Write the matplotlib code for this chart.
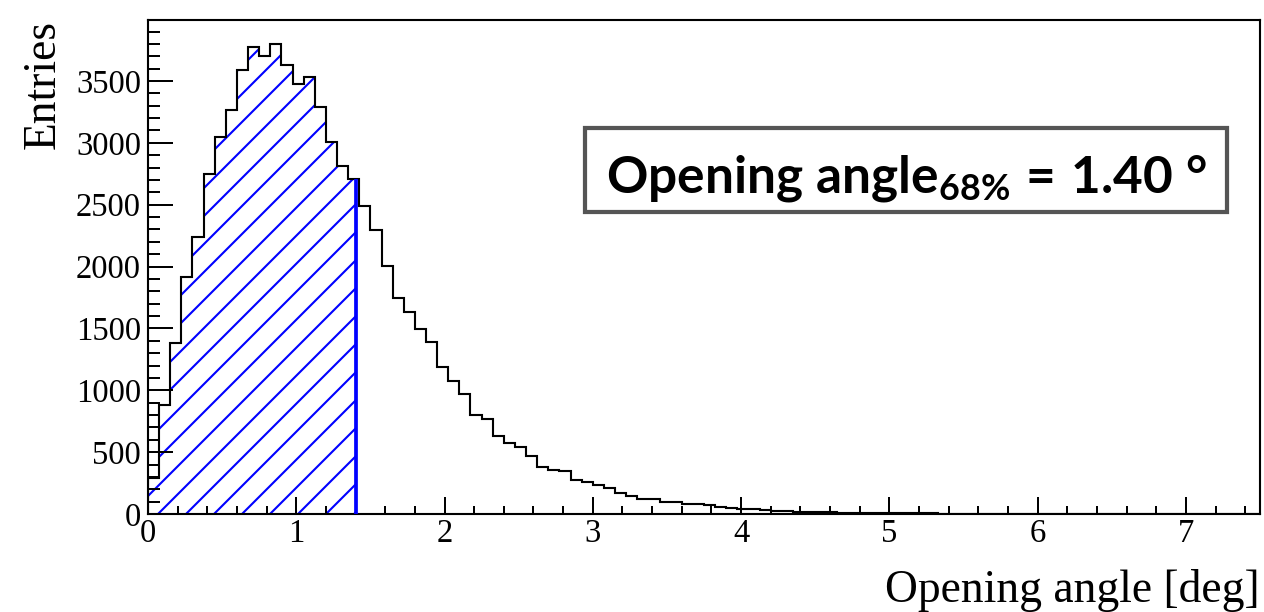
import numpy as np
import matplotlib.pyplot as plt
from matplotlib.patches import Rectangle
from matplotlib.ticker import MultipleLocator

# histogram: 100 bins from 0 to 7.5 deg
x_min, x_max, n_bins = 0.0, 7.5, 100
counts = np.array([
    292, 883, 1386, 1915, 2237, 2747, 3049, 3268, 3590, 3774,
    3706, 3803, 3633, 3476, 3536, 3288, 3004, 2815, 2707, 2493,
    2293, 2004, 1742, 1631, 1497, 1388, 1189, 1078, 968, 797,
    770, 632, 573, 545, 472, 378, 357, 351, 276, 257,
    235, 208, 173, 148, 124, 119, 100, 98, 80, 78,
    75, 54, 47, 43, 40, 30, 27, 25, 18, 15,
    14, 13, 12, 10, 9, 8, 7, 6, 6, 5,
    5, 4, 4, 3, 3, 3, 2, 2, 2, 2,
    1, 1, 2, 1, 1, 1, 1, 0, 1, 1,
    0, 1, 0, 0, 1, 0, 0, 0, 0, 0,
])
angle_68 = 1.40
x_ticks = [0, 1, 2, 3, 4, 5, 6, 7]
y_ticks = [0, 500, 1000, 1500, 2000, 2500, 3000, 3500]

dpi = 168  # chosen so that the '//' hatch spacing matches the reference
plt.rcParams['font.family'] = 'Liberation Serif'
plt.rcParams['hatch.linewidth'] = 0.9
plt.rcParams['mathtext.fontset'] = 'custom'
plt.rcParams['mathtext.rm'] = 'Lato'
plt.rcParams['mathtext.bf'] = 'Lato:bold'
plt.rcParams['mathtext.it'] = 'Lato:italic'

edges = np.linspace(x_min, x_max, n_bins + 1)

fig = plt.figure(figsize=(1264 / dpi, 612 / dpi), dpi=dpi)
ax = fig.add_axes([148 / 1264, 98 / 612, 1112 / 1264, 494 / 612])

# hatched 68% region
n_cut = np.searchsorted(edges, angle_68)
cut_edges = np.append(edges[:n_cut], angle_68)
cut_counts = counts[:n_cut]
ax.stairs(cut_counts, cut_edges, fill=True, facecolor='none',
          edgecolor='#0000ff', hatch='//', linewidth=0)
ax.vlines(angle_68, 0, cut_counts[-1], color='#0000ff', lw=1.6, zorder=4)

# histogram outline
ax.stairs(counts, edges, color='black', lw=0.9, zorder=3)

ax.set_xlim(x_min, x_max)
ax.set_ylim(0, counts.max() * 1.05)
ax.set_xticks(x_ticks)
ax.set_yticks(y_ticks)
ax.xaxis.set_minor_locator(MultipleLocator(0.2))
ax.yaxis.set_minor_locator(MultipleLocator(100))
ax.tick_params(which='both', direction='in', top=False, right=False,
               width=0.85, labelsize=14)
ax.tick_params(axis='y', which='major', length=10.7, pad=3)
ax.tick_params(axis='y', which='minor', length=5.1)
ax.tick_params(axis='x', which='major', length=7.3, pad=2)
ax.tick_params(axis='x', which='minor', length=3.4)
for s in ax.spines.values():
    s.set_linewidth(0.9)

fig.text(43 / 1264, 1 - 20 / 612, 'Entries', rotation=90, ha='center',
         va='top', fontsize=19.5)
fig.text(1260 / 1264, 10 / 612, 'Opening angle [deg]', ha='right',
         va='baseline', fontsize=19.5)

# result box
ax.add_patch(Rectangle((0.393, 0.611), 0.577, 0.170, transform=ax.transAxes,
                       facecolor='white', edgecolor='#555555', lw=1.8, zorder=5))
ax.text(0.682, 0.650,
        r'$\mathbf{Opening\ angle}_{\mathbf{68\%}}\,\mathbf{=\,1.40\,\,°}$',
        transform=ax.transAxes, ha='center', va='baseline', fontsize=22,
        zorder=6)

fig.savefig('out.png', dpi=dpi)
